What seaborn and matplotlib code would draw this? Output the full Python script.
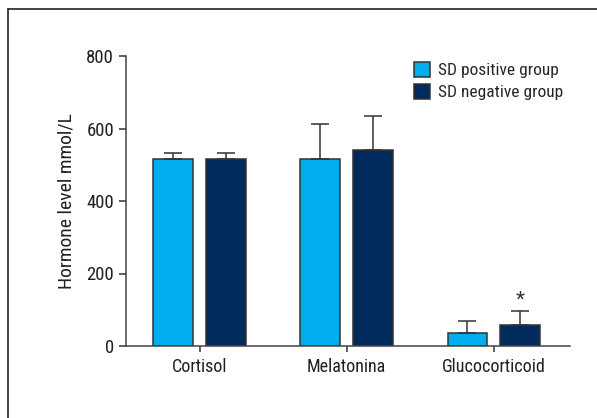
import matplotlib
matplotlib.use("Agg")
import matplotlib.pyplot as plt
import seaborn as sns
import pandas as pd
import numpy as np
from matplotlib.lines import Line2D

hormones = ["Cortisol", "Melatonina", "Glucocorticoid"]
groups = ["SD positive group", "SD negative group"]
positive_mean = [516, 515, 37]
negative_mean = [516, 541, 57]
positive_err = [16, 97, 33]
negative_err = [16, 93, 40]
y_ticks = [0, 200, 400, 600, 800]

group_colors = ["#00AEEF", "#002B5C"]

sns.set_theme(style="ticks")
plt.rcParams["font.family"] = ["Roboto Condensed", "Liberation Sans Narrow", "DejaVu Sans"]
plt.rcParams["font.stretch"] = "condensed"

df = pd.DataFrame({
    "hormone": hormones * 2,
    "group": [groups[0]] * 3 + [groups[1]] * 3,
    "value": positive_mean + negative_mean,
})
errs = positive_err + negative_err

fig = plt.figure(figsize=(5.97, 4.18), dpi=100)
ax = fig.add_axes([126 / 597, 1 - 346 / 418, 444 / 597, 290 / 418])

sns.barplot(data=df, x="hormone", y="value", hue="group", palette=group_colors,
            saturation=1, width=0.72, gap=0.26, errorbar=None,
            edgecolor="#333333", linewidth=1.1, ax=ax)

# upward-only error bars, placed from the drawn bars
bars = ax.patches[:6]
xs = [b.get_x() + b.get_width() / 2 for b in bars]
tops = [b.get_height() for b in bars]
ax.errorbar(xs, tops, yerr=[np.zeros(6), errs], fmt="none", ecolor="#333333",
            elinewidth=1.1, capsize=6.5, capthick=1.1, zorder=1)

# significance marker above the glucocorticoid negative group
ax.annotate("*", xy=(xs[5], tops[5] + errs[5]), xytext=(0, 1),
            textcoords="offset points", ha="center", va="bottom",
            fontsize=15, color="#333333")

ax.set_xlim(-0.5, 2.52)
ax.set_ylim(0, 800)
ax.set_yticks(y_ticks)
ax.set_xlabel("")
ax.set_ylabel("Hormone level mmol/L", fontsize=14, color="#231f20", labelpad=8)
ax.tick_params(axis="both", labelsize=13.5, colors="#333333", labelcolor="#231f20",
               width=1.1, length=5)
ax.tick_params(axis="x", length=4, labelsize=13, pad=5)
for s in ["left", "bottom"]:
    ax.spines[s].set_color("#444444")
    ax.spines[s].set_linewidth(1.1)
sns.despine(ax=ax)

ax.legend(loc="upper left", bbox_to_anchor=(414 / 597, 1 - 62 / 418),
          bbox_transform=fig.transFigure, frameon=False, fontsize=12.5,
          handlelength=0.95, handleheight=0.95, handletextpad=0.45,
          labelspacing=0.3, borderpad=0, borderaxespad=0)

# partial frame around the figure
fig.add_artist(Line2D([8 / 597, 8 / 597], [0, 1 - 9 / 418], color="#222222", lw=1.2))
fig.add_artist(Line2D([8 / 597, 1], [1 - 9 / 418, 1 - 9 / 418], color="#222222", lw=1.2))

fig.savefig("out.png", dpi=100)
